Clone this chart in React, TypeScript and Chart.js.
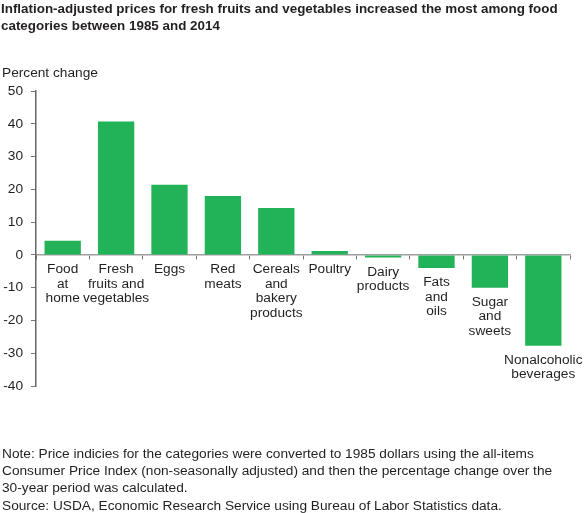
import { useEffect, useRef } from 'react';
import { Chart, registerables } from 'chart.js';

Chart.register(...registerables);

const categories = [
  ['Food', 'at', 'home'],
  ['Fresh', 'fruits and', 'vegetables'],
  ['Eggs'],
  ['Red', 'meats'],
  ['Cereals', 'and', 'bakery', 'products'],
  ['Poultry'],
  ['Dairy', 'products'],
  ['Fats', 'and', 'oils'],
  ['Sugar', 'and', 'sweets'],
  ['Nonalcoholic', 'beverages'],
];
const values = [4.3, 40.7, 21.4, 18, 14.3, 1.2, -0.8, -4, -10, -27.7];
const titleLines = [
  'Inflation-adjusted prices for fresh fruits and vegetables increased the most among food',
  'categories between 1985 and 2014',
];
const yAxisTitle = 'Percent change';
const noteLines = [
  'Note: Price indicies for the categories were converted to 1985 dollars using the all-items',
  'Consumer Price Index (non-seasonally adjusted) and then the percentage change over the',
  '30-year period was calculated.',
  'Source: USDA, Economic Research Service using Bureau of Labor Statistics data.',
];

const FONT = '"Liberation Sans", Arial, sans-serif';
const INK = '#231f20';

// category labels hang under the axis, or under the bar when it is negative
const textPlugin = {
  id: 'chartText',
  afterDraw(chart: Chart) {
    const { ctx, scales } = chart;
    ctx.save();
    ctx.fillStyle = INK;
    ctx.textBaseline = 'alphabetic';
    ctx.textAlign = 'left';

    ctx.font = `bold 13.4px ${FONT}`;
    titleLines.forEach((line, i) => ctx.fillText(line, 1, 13 + i * 17));

    ctx.font = `13.7px ${FONT}`;
    ctx.fillText(yAxisTitle, 2, 77);

    noteLines.forEach((line, i) => ctx.fillText(line, 2, 458 + i * 17.2));

    ctx.textAlign = 'center';
    categories.forEach((lines, i) => {
      const x = scales.x.getPixelForValue(i);
      const base = scales.y.getPixelForValue(Math.min(values[i], 0));
      lines.forEach((line, j) => ctx.fillText(line, x, base + 18 + j * 14.7));
    });
    ctx.restore();
  },
};

export default function App() {
  const canvasRef = useRef<HTMLCanvasElement>(null);

  useEffect(() => {
    document.body.style.margin = '0';
    const chart = new Chart(canvasRef.current!, {
      type: 'bar',
      data: {
        labels: categories.map((c) => c.join(' ')),
        datasets: [
          {
            data: values,
            backgroundColor: '#22b257',
            barPercentage: 0.68,
            categoryPercentage: 1,
          },
        ],
      },
      options: {
        animation: false,
        responsive: false,
        layout: { padding: { top: 91, right: 14, bottom: 127, left: 0 } },
        plugins: { legend: { display: false }, tooltip: { enabled: false } },
        scales: {
          x: {
            position: { y: 0 },
            grid: { drawOnChartArea: false, color: '#777777', tickLength: 4 },
            border: { color: '#a0a0a0', width: 1.5 },
            ticks: { display: false },
          },
          y: {
            min: -40,
            max: 50,
            afterFit: (scale) => {
              scale.width = 36;
            },
            grid: { drawOnChartArea: false, color: '#777777', tickLength: 5 },
            border: { color: '#666666', width: 1.5 },
            ticks: {
              stepSize: 10,
              color: INK,
              padding: 8,
              font: { family: FONT, size: 13.7 },
            },
          },
        },
      },
      plugins: [textPlugin],
    });
    return () => chart.destroy();
  }, []);

  return <canvas ref={canvasRef} width={584} height={513} style={{ display: 'block' }} />;
}
